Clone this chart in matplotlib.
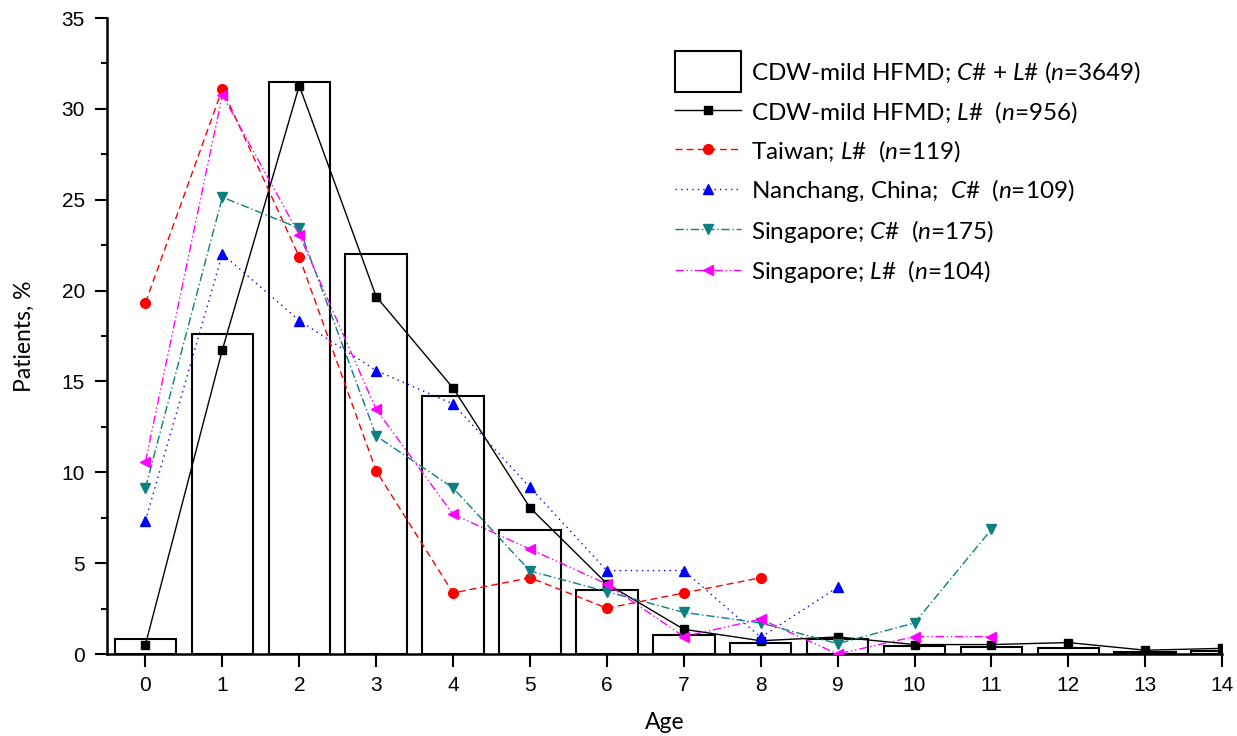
import numpy as np
import matplotlib
matplotlib.use("Agg")
import matplotlib.pyplot as plt
from matplotlib.patches import Rectangle
from matplotlib.legend_handler import HandlerPatch

plt.rcParams['font.family'] = ['Liberation Sans', 'DejaVu Sans']
plt.rcParams['mathtext.fontset'] = 'custom'
plt.rcParams['mathtext.rm'] = 'Lato'
plt.rcParams['mathtext.it'] = 'Lato:italic'

# data (percent of patients per age)
ages = np.arange(15)
cdw_all = [0.8, 17.6, 31.5, 22.0, 14.2, 6.8, 3.5, 1.06, 0.61, 0.83, 0.42, 0.40, 0.34, 0.11, 0.14]
cdw_late = [0.52, 16.74, 31.28, 19.67, 14.64, 8.05, 3.87, 1.36, 0.73, 0.94, 0.52, 0.52, 0.63, 0.21, 0.31]
taiwan_late = [19.33, 31.09, 21.85, 10.08, 3.36, 4.20, 2.52, 3.36, 4.20]
nanchang_cur = [7.34, 22.02, 18.35, 15.60, 13.76, 9.17, 4.59, 4.59, 0.92, 3.67]
singapore_cur = [9.14, 25.14, 23.43, 12.00, 9.14, 4.57, 3.43, 2.29, 1.71, 0.57, 1.71, 6.86]
singapore_late = [10.58, 30.77, 23.08, 13.46, 7.69, 5.77, 3.85, 0.96, 1.92, 0.0, 0.96, 0.96]

labels = ['CDW-mild HFMD; $C$# + $L$# ($n$=3649)',
          'CDW-mild HFMD; $L$#  ($n$=956)',
          'Taiwan; $L$#  ($n$=119)',
          'Nanchang, China;  $C$#  ($n$=109)',
          'Singapore; $C$#  ($n$=175)',
          'Singapore; $L$#  ($n$=104)']


def big_box(legend, orig_handle, xdescent, ydescent, width, height, fontsize):
    # taller box for the bar entry, like the original legend
    extra = 0.5 * height
    return Rectangle((-xdescent, -ydescent - extra), width, height + 2 * extra)


fig = plt.figure(figsize=(12.37, 7.36), dpi=100)
ax = fig.add_axes([0.0865, 0.1114, 0.9015, 0.8641])

ax.bar(ages, cdw_all, width=0.8, facecolor='white', edgecolor='black', linewidth=1.5, zorder=1)
box_proxy = Rectangle((0, 0), 1, 1, facecolor='white', edgecolor='black', linewidth=1.5)
l1, = ax.plot(ages, cdw_late, color='black', lw=1.0, ls='-', marker='s', ms=5.5, zorder=3)
l2, = ax.plot(ages[:len(taiwan_late)], taiwan_late, color='red', lw=1.0, ls=(0, (5, 3)), marker='o', ms=7,
              zorder=3)
l3, = ax.plot(ages[:len(nanchang_cur)], nanchang_cur, color='blue', lw=1.0, ls=(0, (1, 3)), marker='^',
              ms=7.5, zorder=3)
l4, = ax.plot(ages[:len(singapore_cur)], singapore_cur, color='#0d7f80', lw=1.0, ls=(0, (6, 2, 1, 2)),
              marker='v', ms=7.5, zorder=3)
l5, = ax.plot(ages[:len(singapore_late)], singapore_late, color='magenta', lw=1.0,
              ls=(0, (6, 2, 1, 2, 1, 2)), marker='<', ms=7.5, zorder=3)

ax.set_xlim(-0.5, 14)
ax.set_ylim(0, 35)
ax.set_xticks(ages)
ax.set_yticks(np.arange(0, 36, 5))
ax.set_yticks(np.arange(2.5, 35, 5), minor=True)
ax.tick_params(axis='both', which='major', direction='out', length=9, width=1.5, labelsize=15, pad=7)
ax.tick_params(axis='y', which='minor', direction='out', length=4.5, width=1.5)
for s in ['top', 'right']:
    ax.spines[s].set_visible(False)
for s in ['left', 'bottom']:
    ax.spines[s].set_linewidth(1.8)

ax.set_xlabel('Age', family='Lato', fontsize=16.5, labelpad=12)
ax.set_ylabel('Patients, %', family='Lato', fontsize=16.5, labelpad=19)

ax.legend([box_proxy, l1, l2, l3, l4, l5], labels, loc='upper left', bbox_to_anchor=(0.501, 0.95),
          frameon=False, prop={'family': 'Lato', 'size': 17.5}, handlelength=2.7, handleheight=0.9,
          labelspacing=0.55, handletextpad=0.4, borderaxespad=0,
          handler_map={Rectangle: HandlerPatch(patch_func=big_box)})

plt.savefig('out.png', dpi=100)
